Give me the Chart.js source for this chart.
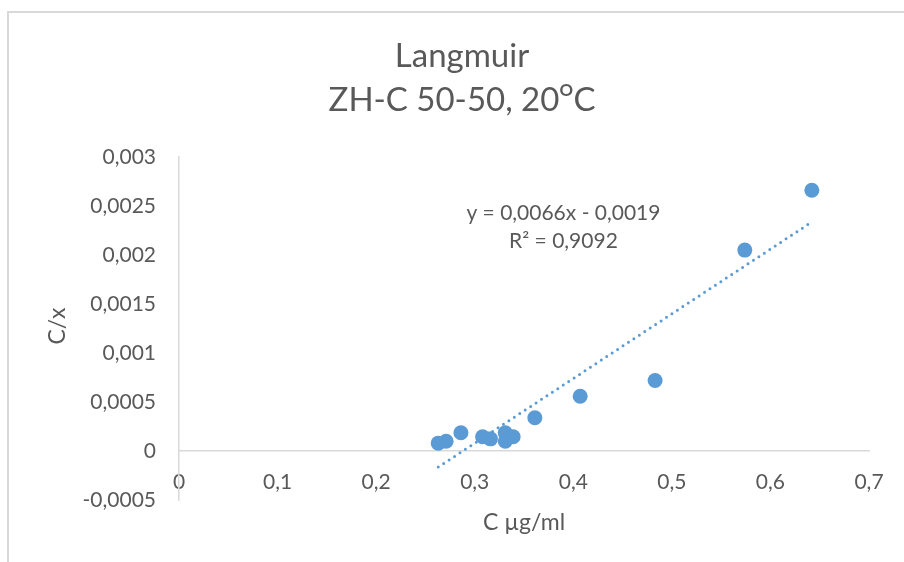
<!DOCTYPE html>
<html>
<head>
<meta charset="utf-8">
<script src="https://cdn.jsdelivr.net/npm/chart.js@4"></script>
<style>
  html, body { margin: 0; padding: 0; background: #fff; }
  #wrap { width: 904px; height: 562px; position: relative; }
</style>
</head>
<body>
<div id="wrap"><canvas id="chart" width="904" height="562"></canvas></div>
<script>
// data
const concX = [0.263, 0.271, 0.286, 0.308, 0.316, 0.331, 0.331, 0.339, 0.361, 0.407, 0.483, 0.574, 0.642];
const ratioY = [0.00008, 0.0001, 0.000186, 0.000145, 0.000124, 0.000186, 0.0001, 0.000145, 0.000339, 0.000559, 0.00072, 0.00205, 0.00266];

// trendline as printed on the chart
const slope = 0.0066;
const intercept = -0.0019;
const eqText = ["y = 0,0066x - 0,0019", "R² = 0,9092"];

const titleLines = ["Langmuir", "ZH-C 50-50, 20ᴼC"];
const xTitle = "C µg/ml";
const yTitle = "C/x";

const FONT = "Lato, 'Open Sans', sans-serif";
const TXT = "#595959";
const AXIS = "#D9D9D9";
const BLUE = "#5B9BD5";

function komma(v) {
  return Number(v.toFixed(4)).toString().replace(".", ",");
}

const points = concX.map((x, i) => ({ x: x, y: ratioY[i] }));
const xMin = Math.min(...concX);
const xMax = Math.max(...concX);
const trend = [
  { x: xMin, y: slope * xMin + intercept },
  { x: xMax, y: slope * xMax + intercept }
];

/* frame, title, axis titles and equation */
const extras = {
  id: "extras",
  beforeDraw(chart) {
    const ctx = chart.ctx;
    ctx.save();
    ctx.strokeStyle = AXIS;
    ctx.lineWidth = 2;
    ctx.strokeRect(8, 12, 1000, 1000);
    ctx.restore();
  },
  afterDraw(chart) {
    const ctx = chart.ctx;
    const xs = chart.scales.x;
    const ys = chart.scales.y;
    ctx.save();
    ctx.fillStyle = TXT;
    ctx.textAlign = "center";

    // title
    ctx.textBaseline = "alphabetic";
    ctx.font = "33px " + FONT;
    ctx.fillText(titleLines[0], 462, 67);
    ctx.fillText(titleLines[1], 462, 111);

    ctx.textBaseline = "middle";
    ctx.font = "23px " + FONT;
    ctx.fillText(xTitle, (chart.chartArea.left + chart.chartArea.right) / 2, 523);
    ctx.save();
    ctx.translate(58, 326);
    ctx.rotate(-Math.PI / 2);
    ctx.fillText(yTitle, 0, 0);
    ctx.restore();

    ctx.font = "21px " + FONT;
    const ex = xs.getPixelForValue(0.39);
    ctx.fillText(eqText[0], ex, ys.getPixelForValue(0.00243));
    ctx.fillText(eqText[1], ex, ys.getPixelForValue(0.00214));
    ctx.restore();
  }
};

new Chart(document.getElementById("chart"), {
  type: "scatter",
  data: {
    datasets: [
      {
        label: "trend",
        data: trend,
        showLine: true,
        borderColor: BLUE,
        borderWidth: 3,
        borderDash: [0, 6.5],
        borderCapStyle: "round",
        pointRadius: 0,
        order: 2
      },
      {
        label: "C/x",
        data: points,
        backgroundColor: BLUE,
        borderColor: BLUE,
        pointRadius: 7.5,
        pointBorderWidth: 0,
        order: 1
      }
    ]
  },
  options: {
    responsive: false,
    animation: false,
    layout: { padding: { left: 0, right: 35, top: 157, bottom: 62 } },
    plugins: {
      legend: { display: false },
      tooltip: { enabled: false },
      title: { display: false }
    },
    scales: {
      x: {
        type: "linear",
        position: { y: 0 },
        min: 0,
        max: 0.7,
        ticks: {
          stepSize: 0.1,
          color: TXT,
          font: { family: FONT, size: 21 },
          padding: 19,
          maxRotation: 0,
          callback: v => komma(v)
        },
        grid: { display: false, drawTicks: false },
        border: { display: true, color: AXIS, width: 1.5 }
      },
      y: {
        type: "linear",
        min: -0.0005,
        max: 0.003,
        afterFit(scale) { scale.width = 179; },
        ticks: {
          stepSize: 0.0005,
          color: TXT,
          font: { family: FONT, size: 21 },
          padding: 23,
          callback: v => komma(v)
        },
        grid: { display: false, drawTicks: false },
        border: { display: true, color: AXIS, width: 1.5 }
      }
    }
  },
  plugins: [extras]
});
</script>
</body>
</html>
